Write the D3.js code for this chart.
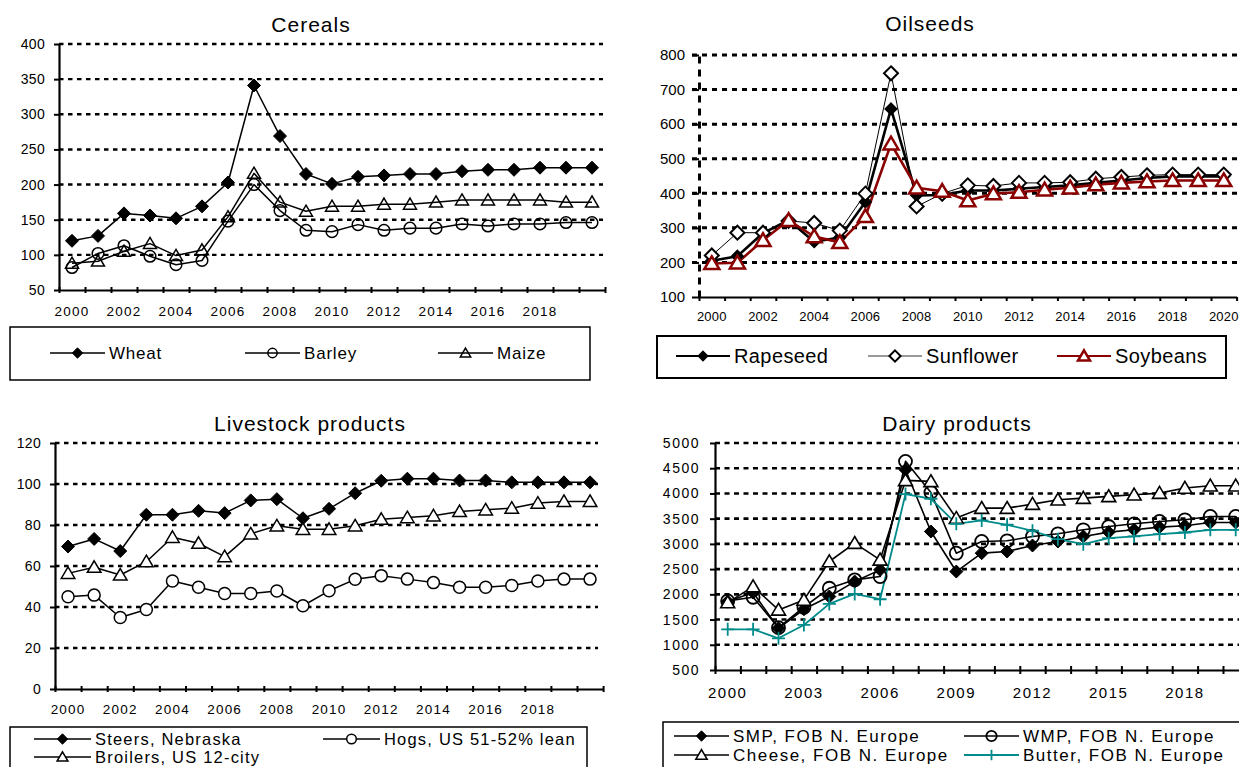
<!DOCTYPE html>
<html><head><meta charset="utf-8">
<script src="https://cdn.jsdelivr.net/npm/d3@7"></script>
<style>
body{margin:0;background:#fff;overflow:hidden}
svg{display:block;font-family:"Liberation Sans",Arial,sans-serif}
</style>
</head><body>
<svg id="c" width="1239" height="767"></svg>
<script>
// ---------- DATA ----------
const years = [2000,2001,2002,2003,2004,2005,2006,2007,2008,2009,2010,2011,2012,2013,2014,2015,2016,2017,2018,2019,2020];

const cerealsWheat  = [120,127,159,156,152,169,203,341,269,215,201,211,213,215,215,219,221,221,224,224,224];
const cerealsBarley = [82,102,113,98,86,92,148,200,163,135,133,143,135,138,138,144,141,144,144,146,146];
const cerealsMaize  = [88,91,105,116,99,107,154,216,175,162,169,169,172,172,175,178,178,178,178,175,175];

const oilRapeseed  = [205,218,285,322,260,272,375,644,394,395,408,408,413,418,423,430,437,444,449,449,449];
const oilSunflower = [220,286,286,320,314,292,399,747,362,399,423,421,430,430,432,442,447,452,454,454,454];
const oilSoybeans  = [197,199,264,322,275,258,333,543,416,406,379,399,403,410,416,425,430,434,437,437,437];

const liveSteers   = [69.5,73.2,67.3,85,85,86.9,85.8,92,92.6,83.3,87.9,95.5,101.6,102.6,102.6,101.7,101.7,100.8,100.8,100.8,100.8];
const liveHogs     = [45,45.8,34.9,38.8,52.7,49.6,46.6,46.6,47.8,40.6,47.9,53.5,55.3,53.6,51.9,49.6,49.6,50.5,52.7,53.6,53.6];
const liveBroilers = [56.4,59.4,55.6,62.1,74,71.1,64.6,75.7,79.6,77.9,77.9,79.6,82.8,83.6,84.5,86.6,87.4,88.2,90.7,91.5,91.5];

const dairySMP    = [1857,2035,1327,1704,1956,2253,2485,4471,3246,2452,2816,2849,2968,3048,3147,3233,3279,3332,3359,3425,3425];
const dairyWMP    = [1870,1942,1340,1744,2121,2287,2353,4636,4021,2816,3048,3061,3147,3200,3279,3345,3398,3445,3478,3544,3544];
const dairyCheese = [1837,2154,1691,1889,2651,3015,2684,4259,4239,3511,3709,3709,3789,3875,3908,3941,3974,4007,4107,4153,4153];
const dairyButter = [1307,1307,1128,1393,1810,2009,1903,3987,3895,3398,3465,3379,3260,3094,2995,3114,3147,3193,3226,3279,3279];

const cerealsYTicks = [50,100,150,200,250,300,350,400];
const oilYTicks     = [100,200,300,400,500,600,700,800];
const liveYTicks    = [0,20,40,60,80,100,120];
const dairyYTicks   = [500,1000,1500,2000,2500,3000,3500,4000,4500,5000];

const cerealsXLabels = [2000,2002,2004,2006,2008,2010,2012,2014,2016,2018];
const oilXLabels     = [2000,2002,2004,2006,2008,2010,2012,2014,2016,2018,2020];
const liveXLabels    = [2000,2002,2004,2006,2008,2010,2012,2014,2016,2018];
const dairyXLabels   = [2000,2003,2006,2009,2012,2015,2018];

// ---------- HELPERS ----------
const svg = d3.select('#c');
const DARKRED = '#8b0000', TEAL = '#008b8b';

function markerPath(type, s){
  if(type==='diamond') return `M0,${-s}L${s},0L0,${s}L${-s},0Z`;
  if(type==='triangle') return `M0,${-s*0.95}L${s},${s*0.75}L${-s},${s*0.75}Z`;
  if(type==='plus') return `M${-s},0H${s}M0,${-s}V${s}`;
  return null;
}
function drawMarker(g, st, cx, cy, scale){
  const k = scale || 1;
  if(st.marker==='circle'){
    g.append('circle').attr('cx',cx).attr('cy',cy).attr('r',st.ms*k)
      .attr('fill',st.mfill).attr('stroke',st.mstroke).attr('stroke-width',st.msw);
  } else {
    g.append('path').attr('d',markerPath(st.marker, st.ms*k)).attr('transform',`translate(${cx},${cy})`)
      .attr('fill',st.mfill).attr('stroke',st.mstroke).attr('stroke-width',st.msw);
  }
}

function panel(o){
  const g = svg.append('g');
  const n = years.length;
  const x = d3.scaleBand().domain(years).range([o.x0, o.x0 + o.step*n]).padding(0);
  const xe = d3.scaleLinear().domain([0,n]).range([o.x0, o.x0 + o.step*n]);
  const y = d3.scaleLinear().domain([o.yTicks[0], o.yTicks[o.yTicks.length-1]]).range([o.yBottom, o.yTop]);

  // title
  g.append('text').attr('x',o.titleX).attr('y',o.titleY).attr('text-anchor','middle')
    .attr('font-size',21).attr('letter-spacing','1px').attr('fill','#000').text(o.title);

  // gridlines
  g.append('g').selectAll('line').data(o.yTicks.slice(1)).join('line')
    .attr('x1',o.gridStart).attr('x2',o.gridEnd).attr('y1',d=>y(d)).attr('y2',d=>y(d))
    .attr('stroke','#000').attr('stroke-width',o.gridW).attr('stroke-dasharray',o.dash);

  // y axis
  const ya = g.append('g').attr('transform',`translate(${o.x0},0)`)
    .call(d3.axisLeft(y).tickValues(o.yTicks).tickSize(o.yTickLen).tickSizeOuter(0).tickPadding(o.yPad).tickFormat(d3.format('d')));
  ya.attr('font-family',null).attr('font-size',o.yFont);
  ya.selectAll('text').attr('fill','#000').attr('letter-spacing',o.yLs+'px');
  ya.selectAll('.tick line').attr('stroke','#000').attr('stroke-width',2);
  ya.select('.domain').attr('stroke','#000').attr('stroke-width',o.yAxisW).attr('stroke-dasharray',o.yAxisDash||null);

  // x axis (edge ticks)
  const xa = g.append('g').attr('transform',`translate(0,${o.yBottom})`)
    .call(d3.axisBottom(xe).tickValues(d3.range(n+1)).tickFormat('').tickSizeOuter(0));
  xa.select('.domain').attr('stroke','#000').attr('stroke-width',2.2);
  xa.selectAll('.tick line').attr('stroke','#000').attr('stroke-width',2).attr('y1',-o.xTickUp).attr('y2',o.xTickDown);

  // x labels
  const xl = g.append('g').attr('transform',`translate(0,${o.yBottom})`)
    .call(d3.axisBottom(x).tickValues(o.xLabels).tickSize(0).tickPadding(o.xPad));
  xl.select('.domain').remove();
  xl.attr('font-family',null).attr('font-size',o.xFont);
  xl.selectAll('text').attr('fill','#000').attr('letter-spacing',o.xLs+'px');

  // series
  const line = d3.line().x((d,i)=>x(years[i])+x.bandwidth()/2).y(d=>y(d));
  o.series.forEach(st=>{
    g.append('path').datum(st.values).attr('d',line).attr('fill','none')
      .attr('stroke',st.color).attr('stroke-width',st.lw).attr('stroke-linejoin','round');
  });
  o.series.forEach(st=>{
    const mg = g.append('g');
    st.values.forEach((v,i)=>drawMarker(mg, st, x(years[i])+x.bandwidth()/2, y(v)));
  });

  // legend
  const lg = g.append('g');
  lg.append('rect').attr('x',o.legBox[0]).attr('y',o.legBox[1]).attr('width',o.legBox[2]).attr('height',o.legBox[3])
    .attr('fill','#fff').attr('stroke','#000').attr('stroke-width',o.legBoxW);
  o.legItems.forEach((it,i)=>{
    const st = o.series[i];
    lg.append('line').attr('x1',it[0]).attr('x2',it[0]+o.legLine).attr('y1',it[1]).attr('y2',it[1])
      .attr('stroke',st.legColor||st.color).attr('stroke-width',st.legLw||Math.min(st.lw,2.2));
    drawMarker(lg, st, it[0]+o.legLine/2, it[1], o.legMScale);
    lg.append('text').attr('x',it[0]+o.legLine+4).attr('y',it[1]).attr('dy','0.36em')
      .attr('font-size',o.legFont).attr('letter-spacing',o.legLs+'px').attr('fill','#000').text(st.name);
  });
}

// ---------- PANELS ----------
panel({
  title:'Cereals', titleX:311, titleY:32,
  x0:59, step:26, yTop:44, yBottom:290, yTicks:cerealsYTicks,
  gridStart:59, gridEnd:603, gridW:2.4, dash:'4.5,4.5',
  yTickLen:5, yPad:9, yFont:14, yLs:0.3, yAxisW:2.2,
  xTickUp:3, xTickDown:3, xPad:16, xFont:13.5, xLs:1.2, xLabels:cerealsXLabels,
  series:[
    {name:'Wheat', values:cerealsWheat, color:'#000', lw:1.5, marker:'diamond', ms:6.5, mfill:'#000', mstroke:'#000', msw:1},
    {name:'Barley', values:cerealsBarley, color:'#000', lw:1.5, marker:'circle', ms:5.8, mfill:'none', mstroke:'#000', msw:1.5},
    {name:'Maize', values:cerealsMaize, color:'#000', lw:1.5, marker:'triangle', ms:6.5, mfill:'none', mstroke:'#000', msw:1.5}
  ],
  legBox:[10,327,580,53], legBoxW:1.5, legLine:55, legMScale:0.8, legFont:17, legLs:0.8,
  legItems:[[50,353],[245,353],[438,353]]
});

panel({
  title:'Oilseeds', titleX:930, titleY:31,
  x0:699, step:25.6, yTop:55, yBottom:297, yTicks:oilYTicks,
  gridStart:692, gridEnd:1239, gridW:3, dash:'5,5',
  yTickLen:7, yPad:7, yFont:15, yLs:0, yAxisW:3, yAxisDash:'7,6',
  xTickUp:0, xTickDown:4, xPad:15, xFont:13, xLs:0.2, xLabels:oilXLabels,
  series:[
    {name:'Rapeseed', values:oilRapeseed, color:'#000', lw:2.6, marker:'diamond', ms:6, mfill:'#000', mstroke:'#000', msw:1.2, legLw:2.2},
    {name:'Sunflower', values:oilSunflower, color:'#000', lw:1, marker:'diamond', ms:7, mfill:'#fff', mstroke:'#000', msw:2, legColor:'#777', legLw:1.5},
    {name:'Soybeans', values:oilSoybeans, color:DARKRED, lw:2.6, marker:'triangle', ms:7.5, mfill:'#fff', mstroke:DARKRED, msw:2.5, legLw:2.2}
  ],
  legBox:[657,336,569,42], legBoxW:2, legLine:54, legMScale:0.8, legFont:20, legLs:0.4,
  legItems:[[676,356],[868,356],[1057,356]]
});

panel({
  title:'Livestock products', titleX:310, titleY:431,
  x0:55, step:26.1, yTop:443, yBottom:689, yTicks:liveYTicks,
  gridStart:55, gridEnd:598, gridW:2.4, dash:'4.5,4.5',
  yTickLen:5, yPad:9, yFont:14, yLs:0.3, yAxisW:2.2,
  xTickUp:3, xTickDown:3, xPad:15, xFont:13.5, xLs:1.2, xLabels:liveXLabels,
  series:[
    {name:'Steers, Nebraska', values:liveSteers, color:'#000', lw:1.5, marker:'diamond', ms:6.5, mfill:'#000', mstroke:'#000', msw:1},
    {name:'Hogs, US 51-52% lean', values:liveHogs, color:'#000', lw:1.5, marker:'circle', ms:6, mfill:'#fff', mstroke:'#000', msw:1.5},
    {name:'Broilers, US 12-city', values:liveBroilers, color:'#000', lw:1.5, marker:'triangle', ms:6.8, mfill:'#fff', mstroke:'#000', msw:1.5}
  ],
  legBox:[10,727,577,70], legBoxW:1.5, legLine:57, legMScale:0.8, legFont:16.5, legLs:1.2,
  legItems:[[34,739],[323,739],[34,757]]
});

panel({
  title:'Dairy products', titleX:957, titleY:431,
  x0:715, step:25.4, yTop:443, yBottom:670, yTicks:dairyYTicks,
  gridStart:715, gridEnd:1239, gridW:2.6, dash:'5,4.5',
  yTickLen:5, yPad:10, yFont:14, yLs:1.5, yAxisW:2.2,
  xTickUp:4, xTickDown:4, xPad:17, xFont:15, xLs:1.5, xLabels:dairyXLabels,
  series:[
    {name:'SMP, FOB N. Europe', values:dairySMP, color:'#000', lw:1.6, marker:'diamond', ms:6.5, mfill:'#000', mstroke:'#000', msw:1},
    {name:'WMP, FOB N. Europe', values:dairyWMP, color:'#000', lw:1.6, marker:'circle', ms:6.5, mfill:'none', mstroke:'#000', msw:1.8},
    {name:'Cheese, FOB N. Europe', values:dairyCheese, color:'#000', lw:1.6, marker:'triangle', ms:7, mfill:'#fff', mstroke:'#000', msw:1.6},
    {name:'Butter, FOB N. Europe', values:dairyButter, color:TEAL, lw:1.8, marker:'plus', ms:6.5, mfill:'none', mstroke:TEAL, msw:1.8}
  ],
  legBox:[663,722,600,70], legBoxW:1.5, legLine:55, legMScale:0.8, legFont:17, legLs:1.5,
  legItems:[[674,736],[964,736],[674,755],[964,755]]
});
</script>
</body></html>
